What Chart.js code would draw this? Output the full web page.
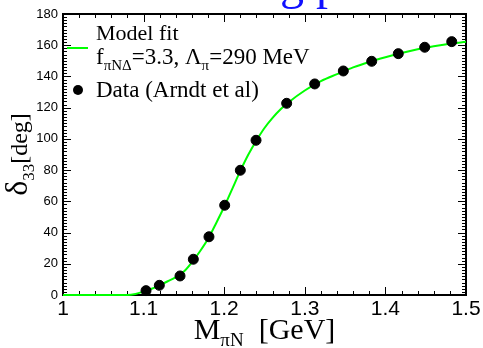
<!DOCTYPE html>
<html>
<head>
<meta charset="utf-8">
<script src="https://cdn.jsdelivr.net/npm/chart.js@4.4.0/dist/chart.umd.min.js"></script>
<style>
  html, body { margin: 0; padding: 0; background: #fff; }
  #wrap { width: 483px; height: 348px; position: relative; }
</style>
</head>
<body>
<div id="wrap"><canvas id="myChart"></canvas></div>
<script>
// P33 phase shift, data points (Arndt et al)
const dataMass = [1.103, 1.1195, 1.1452, 1.1617, 1.1811, 1.2006, 1.220, 1.2395, 1.2775, 1.3123, 1.3478, 1.383, 1.416, 1.4488, 1.4823];
const dataDelta = [2.8, 6.2, 12.2, 22.9, 37.3, 57.5, 79.9, 99.1, 122.8, 135.2, 143.5, 149.7, 154.6, 158.7, 162.3];

// model curve
const fitMass = [1.00, 1.05, 1.08, 1.09, 1.10, 1.11, 1.12, 1.13, 1.14, 1.15, 1.16, 1.17, 1.18, 1.19, 1.20, 1.21, 1.22, 1.23, 1.24, 1.25, 1.26, 1.27, 1.28, 1.30, 1.32, 1.34, 1.36, 1.38, 1.40, 1.42, 1.44, 1.46, 1.48, 1.50];
const fitDelta = [0, 0, 0, 0.7, 2.2, 4.0, 6.3, 8.8, 11.5, 15, 21, 28, 36, 46, 56.5, 68, 79.5, 90, 99, 107, 113.5, 119, 123.5, 131, 137, 141.5, 145.8, 149.3, 152.3, 155, 157.4, 159.4, 161, 162.2];

const xTicks = [1, 1.1, 1.2, 1.3, 1.4, 1.5];
const yTicks = [0, 20, 40, 60, 80, 100, 120, 140, 160, 180];

const SERIF = '"Liberation Serif", "Times New Roman", serif';
const SANS = '"Liberation Sans", Arial, sans-serif';

// draw a run of [text, size, dy] pieces, returns end x
function drawPieces(ctx, x, y, pieces) {
    for (const [t, size, dy] of pieces) {
        ctx.font = size + 'px ' + SERIF;
        ctx.fillText(t, x, y + dy);
        x += ctx.measureText(t).width;
    }
    return x;
}
function piecesWidth(ctx, pieces) {
    let w = 0;
    for (const [t, size] of pieces) {
        ctx.font = size + 'px ' + SERIF;
        w += ctx.measureText(t).width;
    }
    return w;
}

const framePlugin = {
    id: 'frame',
    beforeDatasetsDraw(chart) {
        const { ctx, chartArea: a, scales: { x, y } } = chart;
        ctx.save();
        ctx.strokeStyle = '#000';
        ctx.lineWidth = 1;
        // x ticks, major every 0.1, minor every 0.02
        for (let i = 0; i <= 25; i++) {
            const px = Math.round(x.getPixelForValue(x.min + i * 0.02)) + 0.5;
            const len = i % 5 === 0 ? 8 : 4;
            ctx.beginPath();
            ctx.moveTo(px, a.bottom); ctx.lineTo(px, a.bottom - len);
            ctx.moveTo(px, a.top); ctx.lineTo(px, a.top + len);
            ctx.stroke();
        }
        // y ticks, major every 20, minor every 2
        for (let i = 0; i <= 90; i++) {
            const py = Math.round(y.getPixelForValue(i * 2)) + 0.5;
            const len = i % 10 === 0 ? 8 : 4;
            ctx.beginPath();
            ctx.moveTo(a.left, py); ctx.lineTo(a.left + len, py);
            ctx.moveTo(a.right, py); ctx.lineTo(a.right - len, py);
            ctx.stroke();
        }
        ctx.lineWidth = 2;
        ctx.strokeRect(a.left, a.top, a.right - a.left, a.bottom - a.top);
        ctx.restore();
    },
    afterDraw(chart) {
        const { ctx, chartArea: a } = chart;
        ctx.save();
        ctx.fillStyle = '#000';
        ctx.textBaseline = 'alphabetic';
        ctx.textAlign = 'left';

        // page title, sits above the canvas so only descenders show
        ctx.fillStyle = '#1010ff';
        ctx.font = '48px ' + SERIF;
        ctx.fillText('Fitting phase shifts', 176, -1);
        ctx.fillStyle = '#000';

        // x axis title
        const xt = [['M', 30, 0], ['\u03c0N', 19, 7], ['  [GeV]', 30, 0]];
        const cx = (a.left + a.right) / 2;
        drawPieces(ctx, cx - piecesWidth(ctx, xt) / 2, 339, xt);

        // y axis title
        const yt = [['\u03b4', 32, 0], ['33', 17, 7], ['[deg]', 24, 0]];
        ctx.translate(27, (a.top + a.bottom) / 2);
        ctx.rotate(-Math.PI / 2);
        drawPieces(ctx, -piecesWidth(ctx, yt) / 2, 0, yt);
        ctx.setTransform(1, 0, 0, 1, 0, 0);

        // legend
        ctx.font = '22px ' + SERIF;
        ctx.fillText('Model fit', 96, 40);
        drawPieces(ctx, 96, 64, [['f', 23, 0], ['\u03c0N\u0394', 15, 6], ['=3.3, \u039b', 23, 0], ['\u03c0', 15, 6], ['=290 MeV', 23, 0]]);
        ctx.strokeStyle = '#00ff00';
        ctx.lineWidth = 2;
        ctx.beginPath();
        ctx.moveTo(67, 48); ctx.lineTo(88, 48);
        ctx.stroke();
        ctx.beginPath();
        ctx.arc(78, 90, 5, 0, Math.PI * 2);
        ctx.fill();
        ctx.font = '23px ' + SERIF;
        ctx.fillText('Data (Arndt et al)', 96, 97);
        ctx.restore();
    }
};

new Chart(document.getElementById('myChart'), {
    type: 'scatter',
    data: {
        datasets: [
            {
                type: 'line',
                data: fitMass.map((m, i) => ({ x: m, y: fitDelta[i] })),
                borderColor: '#00ff00',
                borderWidth: 2,
                pointRadius: 0,
                cubicInterpolationMode: 'monotone',
                clip: 4,
                order: 2
            },
            {
                data: dataMass.map((m, i) => ({ x: m, y: dataDelta[i] })),
                backgroundColor: '#000',
                borderColor: '#000',
                pointRadius: 5,
                clip: 6,
                order: 1
            }
        ]
    },
    options: {
        responsive: true,
        maintainAspectRatio: false,
        animation: false,
        layout: { padding: { top: 14, right: 17, left: 0, bottom: 0 } },
        plugins: { legend: { display: false }, tooltip: { enabled: false } },
        scales: {
            x: {
                type: 'linear',
                min: 1, max: 1.5,
                afterBuildTicks: s => { s.ticks = xTicks.map(v => ({ value: v })); },
                afterFit: s => { s.height = 53; },
                grid: { display: false, drawTicks: false },
                border: { display: false },
                ticks: {
                    color: '#000',
                    padding: 2,
                    maxRotation: 0,
                    font: { family: SANS, size: 21 },
                    callback: v => String(Number(v.toFixed(1)))
                }
            },
            y: {
                min: 0, max: 180,
                afterBuildTicks: s => { s.ticks = yTicks.map(v => ({ value: v })); },
                afterFit: s => { s.width = 63; },
                grid: { display: false, drawTicks: false },
                border: { display: false },
                ticks: {
                    color: '#000',
                    padding: 5,
                    font: { family: SANS, size: 13 }
                }
            }
        }
    },
    plugins: [framePlugin]
});
</script>
</body>
</html>
